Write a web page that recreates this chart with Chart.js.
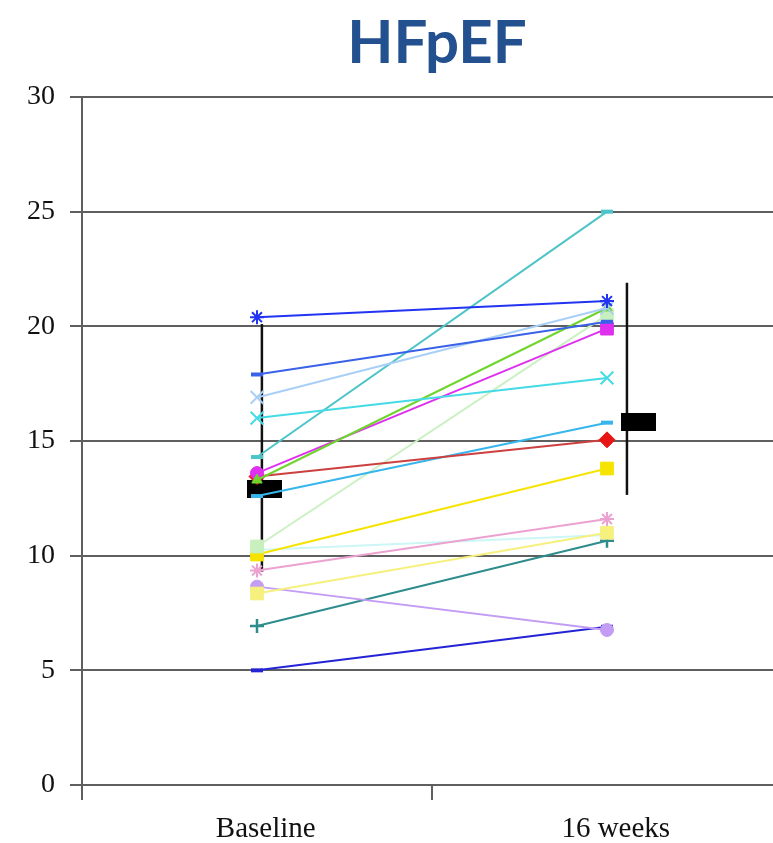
<!DOCTYPE html>
<html>
<head>
<meta charset="utf-8">
<title>HFpEF</title>
<script src="https://cdn.jsdelivr.net/npm/chart.js@4/dist/chart.umd.min.js"></script>
<style>
  html, body { margin: 0; padding: 0; background: #ffffff; overflow: hidden; }
  #wrap { position: relative; width: 874px; height: 843px; }
  #heading {
    position: absolute; left: 0; top: 4px; width: 874px; margin: 0;
    text-align: center; font-family: 'Lato', sans-serif; font-weight: bold;
    font-size: 60px; line-height: 72px; color: #23508e;
  }
  #chart { position: absolute; left: 0; top: 0; }
</style>
</head>
<body>
<div id="wrap">
  <canvas id="chart" width="874" height="843"></canvas>
  <h1 id="heading">HFpEF</h1>
</div>
<script>
// Time points on the x axis
const timepoints = ['Baseline', '16 weeks'];

// Individual patient values (baseline -> 16 weeks)
const baseline = [20.4, 17.9, 16.9, 16.0, 14.3, 13.3, 13.6, 13.45, 12.6, 10.4, 10.05, 10.25, 9.35, 8.35, 8.65, 6.93, 5.0];
const week16   = [21.1, 20.2, 20.8, 17.75, 25.0, 20.8, 19.9, 15.05, 15.8, 20.5, 13.8, 10.9, 11.6, 11.0, 6.76, 10.65, 6.9];

// Group mean and error bar ends
const groupMean = [12.9, 15.83];
const barLow    = [9.3, 12.65];
const barHigh   = [20.1, 21.9];

// y axis tick values
const yTicks = [0, 5, 10, 15, 20, 25, 30];

// Per-patient line colour and marker shape
const lineColors = ['#2233f2', '#3a62e8', '#a9cff6', '#45dbe6', '#4cc4c8', '#6fd52e', '#de30ee', '#cc4040',
                    '#36b6ec', '#cbf1c2', '#f6e400', '#cdf6f6', '#eca2d0', '#f6f07e', '#c39cf4', '#2e8c8c', '#2424d6'];
const markerColors = ['#2233f2', '#3a62e8', '#a9cff6', '#45dbe6', '#4cc4c8', '#6fd52e', '#de30ee', '#e81515',
                      '#36b6ec', '#c8f0bf', '#f6e400', '#cdf6f6', '#eca2d0', '#f6f07e', '#c39cf4', '#2e8c8c', '#2424d6'];
const markerShapes = ['star', 'line', 'crossRot', 'crossRot', 'line', 'triangle', ['circle', 'rect'], 'rectRot',
                      'line', 'rect', 'rect', 'dash', 'star', 'rect', 'circle', 'cross', 'line'];

// horizontal placement of the summary marks relative to each time point
const meanShift = [0.02, 0.09];
const barShift = [0.014, 0.057];

const GRID = '#5f5f5f';

function radiusFor(shape) {
  return { star: 7, line: 6, crossRot: 9, rect: 9, circle: 6.5, rectRot: 8, cross: 7, triangle: 6, dash: 4 }[shape] || 6;
}
function borderFor(shape) {
  return { star: 2, line: 4, crossRot: 2, cross: 2.5, dash: 2 }[shape] || 1;
}

const datasets = [];

baseline.forEach((b, i) => {
  const shape = markerShapes[i];
  const shapes = Array.isArray(shape) ? shape : [shape, shape];
  datasets.push({
    label: 'Patient ' + (i + 1),
    data: [{ x: 1, y: b }, { x: 2, y: week16[i] }],
    showLine: true,
    borderColor: lineColors[i],
    borderWidth: 2,
    pointStyle: shapes.map(s => (s === 'dash' ? 'line' : s)),
    pointRadius: shapes.map(radiusFor),
    pointBorderWidth: shapes.map(borderFor),
    pointBorderColor: markerColors[i],
    pointBackgroundColor: markerColors[i],
    order: 10 + (i === 11 ? 1 : 0)
  });
});

// error bars (drawn below the patient lines)
[0, 1].forEach(k => {
  datasets.push({
    label: 'Range ' + timepoints[k],
    data: [{ x: k + 1 + barShift[k], y: barLow[k] }, { x: k + 1 + barShift[k], y: barHigh[k] }],
    showLine: true,
    borderColor: '#111111',
    borderWidth: 2.5,
    pointRadius: 0,
    order: 30
  });
});

// black bar marks for the group means
const meanMark = document.createElement('canvas');
meanMark.width = 35;
meanMark.height = 18;
const mctx = meanMark.getContext('2d');
mctx.fillStyle = '#000000';
mctx.fillRect(0, 0, 35, 18);

datasets.push({
  label: 'Mean',
  data: groupMean.map((m, k) => ({ x: k + 1 + meanShift[k], y: m })),
  showLine: false,
  pointStyle: meanMark,
  pointRadius: 10,
  order: 20
});

const xTickValues = [0.5, 1.025, 1.5, 2.025, 2.5];

new Chart(document.getElementById('chart'), {
  type: 'scatter',
  data: { datasets },
  options: {
    responsive: false,
    animation: false,
    devicePixelRatio: 1,
    layout: { padding: { left: 0, right: 92, top: 97, bottom: 0 } },
    plugins: {
      legend: { display: false },
      tooltip: { enabled: false }
    },
    scales: {
      x: {
        type: 'linear',
        min: 0.5,
        max: 2.5,
        afterBuildTicks: scale => { scale.ticks = xTickValues.map(v => ({ value: v })); },
        afterFit: scale => { scale.height = 58; },
        ticks: {
          autoSkip: false,
          maxRotation: 0,
          padding: 12,
          color: '#111111',
          font: { family: 'Liberation Serif', size: 29 },
          callback: v => {
            const idx = Math.round(v) - 1;
            return Math.abs(v - Math.round(v)) < 0.1 && idx >= 0 && idx < timepoints.length ? timepoints[idx] : '';
          }
        },
        grid: {
          drawOnChartArea: false,
          drawTicks: true,
          tickLength: 15,
          lineWidth: 2,
          tickColor: ctx => (ctx.tick && Math.abs(ctx.tick.value % 1 - 0.5) < 0.01) ? GRID : 'rgba(0,0,0,0)'
        },
        border: { display: true, color: GRID, width: 2 }
      },
      y: {
        min: 0,
        max: 30,
        afterBuildTicks: scale => { scale.ticks = yTicks.map(v => ({ value: v })); },
        afterFit: scale => { scale.width = 82; },
        ticks: {
          padding: 15,
          color: '#111111',
          font: { family: 'Liberation Serif', size: 28 }
        },
        grid: {
          color: GRID,
          lineWidth: 2,
          tickLength: 12,
          tickColor: GRID
        },
        border: { display: true, color: GRID, width: 2 }
      }
    }
  }
});
</script>
</body>
</html>
